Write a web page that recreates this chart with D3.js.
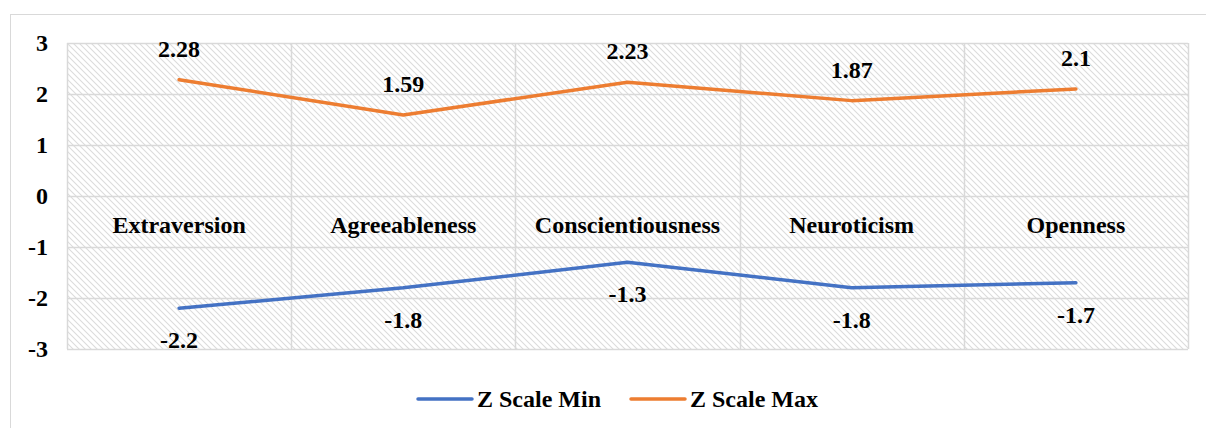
<!DOCTYPE html>
<html><head><meta charset="utf-8">
<script src="https://cdn.jsdelivr.net/npm/d3@7"></script>
<style>body{margin:0;background:#fff;font-family:"Liberation Serif",serif}</style>
</head><body>
<svg id="c" width="1206" height="428" font-family="Liberation Serif" style="font-family:'Liberation Serif'"></svg>
<script>
const categories = ["Extraversion","Agreeableness","Conscientiousness","Neuroticism","Openness"];
const zMin = [-2.2,-1.8,-1.3,-1.8,-1.7];
const zMax = [2.28,1.59,2.23,1.87,2.1];
const yTicks = [3,2,1,0,-1,-2,-3];
const seriesNames = ["Z Scale Min","Z Scale Max"];
const colors = ["#4472C4","#ED7D31"];

const svg = d3.select("#c");
const L=67, R=1188, T=43, B=349;
function styleText(sel){
  return sel.attr("font-family","Liberation Serif").attr("font-weight","bold").attr("font-size",24)
    .style("font-family","'Liberation Serif', 'Times New Roman'").style("font-weight","bold").style("font-size","24px");
}

const defs = svg.append("defs");
const pat = defs.append("pattern").attr("id","hatch").attr("patternUnits","userSpaceOnUse")
  .attr("width",6).attr("height",6);
pat.append("path").attr("d","M0,0 L6,6 M-1,5 L1,7 M5,-1 L7,1")
  .attr("stroke","#dcdcdc").attr("stroke-width",1.1).attr("fill","none");

// outer border
svg.append("rect").attr("x",10.5).attr("y",14.5).attr("width",1200).attr("height",420)
  .attr("fill","#fff").attr("stroke","#d9d9d9").attr("stroke-width",1);

const band = d3.scaleBand().domain(categories).range([L,R]);
const x = d3.scalePoint().domain(categories).range([L,R]).padding(0.5);
const y = d3.scaleLinear().domain([-3,3]).range([B,T]);

svg.append("rect").attr("x",L).attr("y",T).attr("width",R-L).attr("height",B-T).attr("fill","url(#hatch)");

// gridlines
svg.append("g").selectAll("line").data(yTicks).join("line")
  .attr("x1",L).attr("x2",R).attr("y1",d=>Math.round(y(d))+0.5).attr("y2",d=>Math.round(y(d))+0.5)
  .attr("stroke","#d9d9d9").attr("stroke-width",1.5);
const vb = categories.map(c=>band(c)).concat([R]);
svg.append("g").selectAll("line").data(vb).join("line")
  .attr("x1",d=>Math.round(d)+0.5).attr("x2",d=>Math.round(d)+0.5).attr("y1",T).attr("y2",B)
  .attr("stroke","#d9d9d9").attr("stroke-width",1.5);

// y tick labels
styleText(svg.selectAll("text.ytick").data(yTicks).join("text").attr("class","ytick")
  .attr("x",48).attr("y",d=>y(d)+8).attr("text-anchor","end")
  .text(d=>d));

// category labels
styleText(svg.selectAll("text.cat").data(categories).join("text").attr("class","cat")
  .attr("x",d=>x(d)).attr("y",y(0)+37).attr("text-anchor","middle")
  .text(d=>d));

const line = d3.line().x((d,i)=>x(categories[i])).y(d=>y(d));
[zMin,zMax].forEach((s,k)=>{
  svg.append("path").datum(s).attr("d",line).attr("fill","none")
    .attr("stroke",colors[k]).attr("stroke-width",3.5).attr("stroke-linecap","round").attr("stroke-linejoin","round");
  styleText(svg.selectAll("text.lab"+k).data(s).join("text").attr("class","lab"+k)
    .attr("x",(d,i)=>x(categories[i])).attr("y",d=>y(d)+(k===0?40:-23))
    .attr("text-anchor","middle").text(d=>d));
});

// legend
const leg = [{x:418,tx:477},{x:631,tx:690}];
leg.forEach((p,k)=>{
  svg.append("line").attr("x1",p.x).attr("x2",p.x+54).attr("y1",399).attr("y2",399)
    .attr("stroke",colors[k]).attr("stroke-width",3.5).attr("stroke-linecap","round");
  styleText(svg.append("text").attr("x",p.tx).attr("y",407)
    .text(seriesNames[k]));
});
</script>
</body></html>
